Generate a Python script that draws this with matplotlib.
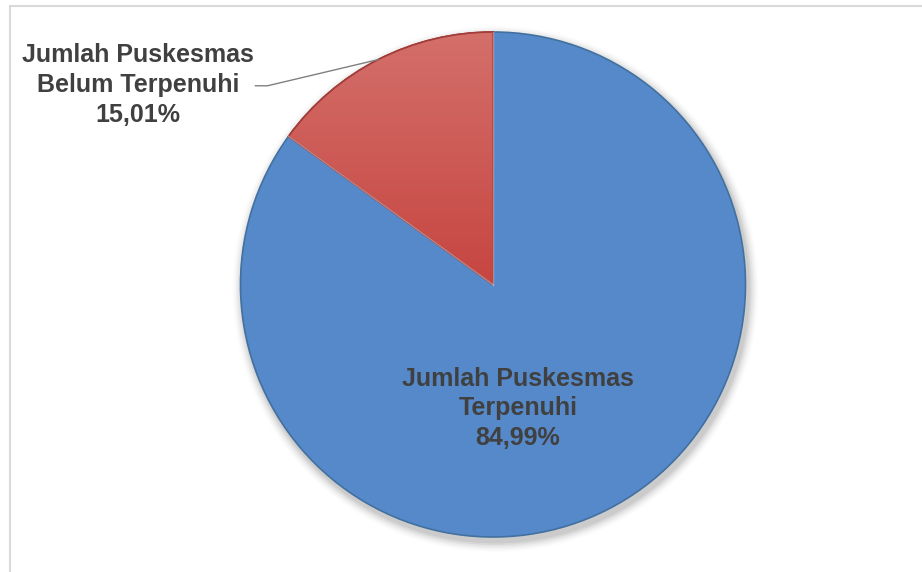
import numpy as np
import matplotlib
matplotlib.use("Agg")
import matplotlib.pyplot as plt
from matplotlib.lines import Line2D
from matplotlib.patches import Circle
from matplotlib.colors import LinearSegmentedColormap

labels = ["Jumlah Puskesmas\nTerpenuhi", "Jumlah Puskesmas\nBelum Terpenuhi"]
values = [84.99, 15.01]
colors = ["#5589C9", "#CC524E"]
edge_colors = ["#42709F", "#A23C39"]

plt.rcParams['font.family'] = ['Liberation Sans', 'DejaVu Sans']
text_color = "#404040"

fig = plt.figure(figsize=(9.22, 5.72), dpi=100)
W, H = 922, 572

# light frame like the office chart area
fig.add_artist(Line2D([9.5 / W, 1.0], [1 - 6 / H, 1 - 6 / H], color="#D9D9D9", lw=1.5))
fig.add_artist(Line2D([9.5 / W, 9.5 / W], [0.0, 1 - 6 / H], color="#D9D9D9", lw=1.5))

ax = fig.add_axes([240 / W, 35 / H, 506 / W, 505 / H])
ax.set_xlim(-1, 1)
ax.set_ylim(-1, 1)
ax.set_aspect("equal")
ax.axis("off")

# soft shadow under the pie
for i, a in enumerate(np.linspace(0.06, 0.012, 6)):
    ax.add_patch(Circle((0.01, -0.018), 1.0 + 0.007 * (i + 1), color="black",
                        alpha=a, lw=0, zorder=0, clip_on=False))

wedges, _ = ax.pie(values, colors=colors, startangle=90, counterclock=False,
                   radius=1.0, wedgeprops=dict(linewidth=1.2, zorder=2))
for w, ec in zip(wedges, edge_colors):
    w.set_edgecolor(ec)
    w.set_clip_on(False)

# gradient on the red slice (lighter near the rim)
grad = np.linspace(0, 1, 256).reshape(-1, 1)
cmap = LinearSegmentedColormap.from_list("r", ["#C6433F", "#D4706B"])
im = ax.imshow(grad, extent=[-0.85, 0.05, -0.05, 1.02], origin="lower", cmap=cmap,
               aspect="auto", zorder=2.5)
im.set_clip_path(wedges[1])
ax.set_xlim(-1, 1)
ax.set_ylim(-1, 1)
ax.set_aspect("equal")

# redraw red outline above the gradient
ax.add_patch(plt.matplotlib.patches.Wedge((0, 0), 1.0, wedges[1].theta1, wedges[1].theta2,
                                          fill=False, ec=edge_colors[1], lw=1.2,
                                          zorder=2.6, clip_on=False))

# light highlight separating the slices
for w in wedges:
    for ang in (w.theta1, w.theta2):
        t = np.deg2rad(ang)
        ax.plot([0, np.cos(t)], [0, np.sin(t)], color="white", alpha=0.2, lw=1, zorder=3)

# label inside the big slice
ax.text(0.099, -0.49, f"{labels[0]}\n{values[0]:.2f}%".replace(".", ","),
        ha="center", va="center", fontsize=18, fontweight="bold",
        color=text_color, linespacing=1.3, zorder=4)

# label outside the small slice with leader line
mid = np.deg2rad((wedges[1].theta1 + wedges[1].theta2) / 2)
ex, ey = np.cos(mid), np.sin(mid)
ax.plot([-0.941, -0.893, ex], [0.787, 0.787, ey], color="#808080", lw=1,
        clip_on=False, zorder=4)
ax.text(-1.407, 0.79, f"{labels[1]}\n{values[1]:.2f}%".replace(".", ","),
        ha="center", va="center", fontsize=18, fontweight="bold",
        color=text_color, linespacing=1.3, zorder=4)

fig.savefig("out.png", dpi=100)
